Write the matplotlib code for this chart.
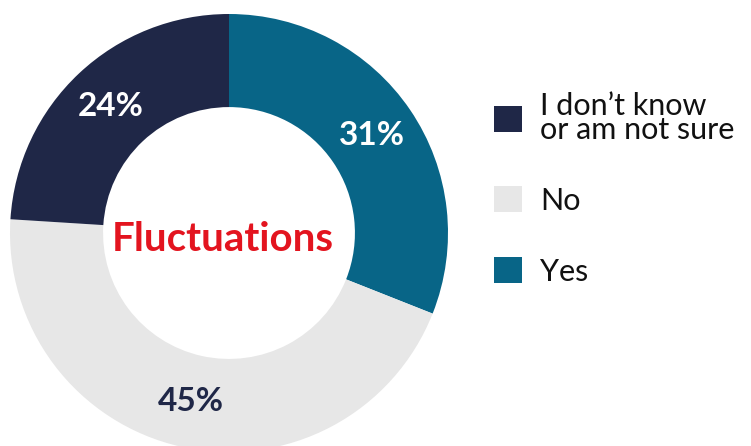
import matplotlib
matplotlib.use("Agg")
from matplotlib import pyplot as plt

# survey answers (pie order: clockwise from top)
answers = ["Yes", "No", "I don\u2019t know\nor am not sure"]
shares = [31, 45, 24]
colors = ["#086587", "#e7e7e7", "#1f2747"]
label_colors = ["white", "#1f2747", "white"]
center_title = "Fluctuations"

FONT = "Lato"

fig = plt.figure(figsize=(7.51, 4.46), dpi=100)
W, H = 751, 446
# donut axes: centre (229, 233) px from top-left, radius 219 px
cx, cy, r = 229, 233, 219
ax = fig.add_axes([(cx - r) / W, (H - cy - r) / H, 2 * r / W, 2 * r / H])

wedges, texts, autotexts = ax.pie(
    shares, colors=colors, startangle=90, counterclock=False,
    radius=1.0, wedgeprops=dict(width=0.425, edgecolor="none"),
    autopct="%d%%", pctdistance=0.79,
    textprops=dict(fontsize=24, fontweight="bold", family=FONT))
for t, col in zip(autotexts, label_colors):
    t.set_color(col)
ax.set_xlim(-1, 1)
ax.set_ylim(-1, 1)
ax.axis("off")
for w in wedges:
    w.set_clip_on(False)

ax.text(-0.03, -0.03, center_title, ha="center", va="center",
        fontsize=29, fontweight="bold", color="#e3141f", family=FONT)

# legend shows the reverse order
leg = fig.legend(wedges[::-1], answers[::-1], loc="upper left",
                 bbox_to_anchor=(479 / W, 1 - 77 / H), frameon=False,
                 handlelength=0.9, handleheight=0.9, handletextpad=0.6,
                 labelspacing=1.4, borderpad=0,
                 prop=dict(family=FONT, size=22))
for t in leg.get_texts():
    t.set_linespacing(0.8)
    t.set_color("#111111")

plt.savefig("out.png", dpi=100)
plt.close()
